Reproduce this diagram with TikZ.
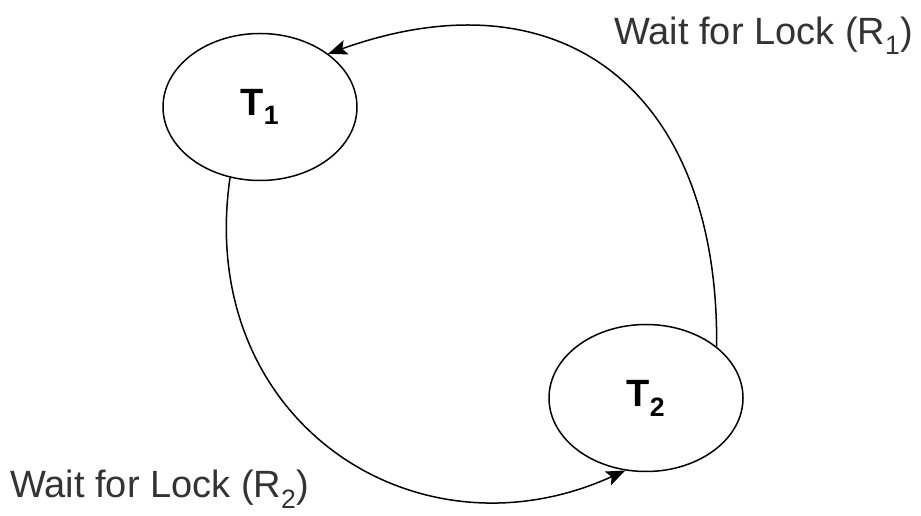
\documentclass[tikz,border=0pt]{standalone}
\usepackage{fontspec}
\setmainfont{Liberation Sans}
\usetikzlibrary{arrows.meta,shapes.geometric}
\begin{document}
\begin{tikzpicture}[x=1pt,y=1pt,
  txn/.style={ellipse,draw,line width=1.5pt,minimum width=194pt,minimum height=147pt,inner sep=0pt,font=\fontsize{38}{44}\selectfont\bfseries},
  lbl/.style={anchor=base west,inner sep=0pt,text=black!80,font=\fontsize{38}{44}\selectfont},
  edge/.style={-{Stealth[length=19pt,width=15pt,inset=4pt]},line width=1.5pt}]
\useasboundingbox (0,0) rectangle (921,516);
\node[txn] (t1) at (260,409) {T\textsubscript{1}};
\node[txn] (t2) at (646,118) {T\textsubscript{2}};
\node[lbl] (w1) at (614,471) {Wait for Lock (R\textsubscript{1})};
\node[lbl] (w2) at (10,18) {Wait for Lock (R\textsubscript{2})};
\draw[edge] (t2.36) .. controls (719,425) and (562,546) .. (t1.38);
\draw[edge] (t1.247) .. controls (195,96) and (415,-50) .. (t2.254);
\end{tikzpicture}
\end{document}
